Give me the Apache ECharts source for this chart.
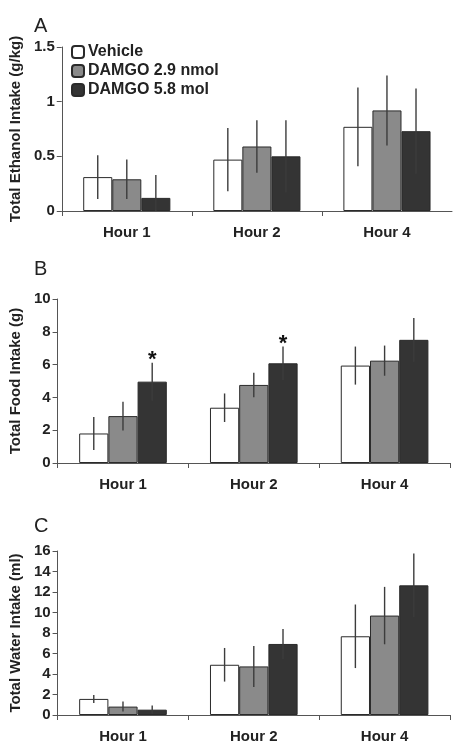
<!DOCTYPE html>
<html>
<head>
<meta charset="utf-8">
<script src="https://cdn.jsdelivr.net/npm/echarts@6/dist/echarts.min.js"></script>
<style>html,body{margin:0;padding:0;background:#fff;}#c{width:458px;height:755px;}</style>
</head>
<body>
<div id="c"></div>
<script>
const categories = ['Hour 1', 'Hour 2', 'Hour 4'];
const seriesNames = ['Vehicle', 'DAMGO 2.9 nmol', 'DAMGO 5.8 mol'];

const ethanolVehicle = [0.31, 0.47, 0.77];
const ethanolD29 = [0.29, 0.59, 0.92];
const ethanolD58 = [0.12, 0.50, 0.73];
const ethanolErrVehicle = [0.20, 0.29, 0.36];
const ethanolErrD29 = [0.18, 0.24, 0.32];
const ethanolErrD58 = [0.21, 0.33, 0.39];

const foodVehicle = [1.80, 3.37, 5.94];
const foodD29 = [2.86, 4.76, 6.24];
const foodD58 = [4.96, 6.08, 7.51];
const foodErrVehicle = [1.00, 0.87, 1.16];
const foodErrD29 = [0.88, 0.75, 0.92];
const foodErrD58 = [1.16, 1.02, 1.33];
const foodSigD58 = ['*', '*', ''];

const waterVehicle = [1.57, 4.90, 7.68];
const waterD29 = [0.82, 4.74, 9.70];
const waterD58 = [0.52, 6.93, 12.65];
const waterErrVehicle = [0.39, 1.64, 3.10];
const waterErrD29 = [0.49, 2.00, 2.80];
const waterErrD58 = [0.40, 1.47, 3.10];

const yTicksA = [0, 1.5, 0.5];
const yTicksB = [0, 10, 2];
const yTicksC = [0, 16, 2];

const panels = [
  {letter: 'A', yName: 'Total Ethanol Intake (g/kg)', ticks: yTicksA,
   means: [ethanolVehicle, ethanolD29, ethanolD58], errs: [ethanolErrVehicle, ethanolErrD29, ethanolErrD58],
   sig: [null, null, null]},
  {letter: 'B', yName: 'Total Food Intake (g)', ticks: yTicksB,
   means: [foodVehicle, foodD29, foodD58], errs: [foodErrVehicle, foodErrD29, foodErrD58],
   sig: [null, null, foodSigD58]},
  {letter: 'C', yName: 'Total Water Intake (ml)', ticks: yTicksC,
   means: [waterVehicle, waterD29, waterD58], errs: [waterErrVehicle, waterErrD29, waterErrD58],
   sig: [null, null, null]}
];

const grids = [
  {left: 59, top: 47, width: 393, height: 164},
  {left: 54, top: 299, width: 396, height: 164},
  {left: 52, top: 551, width: 398, height: 164}
];
const nameGaps = [34, 30, 29];
const letterTops = [11, 254, 511];
const fills = ['#ffffff', '#8a8a8a', '#343434'];
const catGap = 0.33;
const FONT = '"Liberation Sans", Arial, sans-serif';

const chart = echarts.init(document.getElementById('c'), null, {renderer: 'canvas'});

const option = {
  animation: false,
  backgroundColor: '#fff',
  title: panels.map((p, i) => ({
    text: p.letter, left: 29, top: letterTops[i],
    textStyle: {fontFamily: FONT, fontSize: 20, fontWeight: 'normal', color: '#222'}
  })),
  legend: {
    data: seriesNames, orient: 'vertical', left: 66, top: 39,
    itemWidth: 12, itemHeight: 12, itemGap: 3,
    textStyle: {fontFamily: FONT, fontSize: 16, fontWeight: 'bold', color: '#222', padding: [0, 0, 0, -1]},
    selectedMode: false
  },
  grid: grids.map(g => Object.assign({containLabel: false}, g)),
  xAxis: grids.map((g, i) => ({
    type: 'category', gridIndex: i, data: categories,
    axisLine: {lineStyle: {color: '#555', width: 1}},
    axisTick: {show: true, length: 5, lineStyle: {color: '#555'}},
    axisLabel: {fontFamily: FONT, fontSize: 15, fontWeight: 'bold', color: '#222', margin: 14}
  })),
  yAxis: panels.map((p, i) => ({
    type: 'value', gridIndex: i, min: p.ticks[0], max: p.ticks[1], interval: p.ticks[2],
    name: p.yName, nameLocation: 'middle', nameGap: nameGaps[i],
    nameTextStyle: {fontFamily: FONT, fontSize: 15, fontWeight: 'bold', color: '#222'},
    axisLine: {show: true, lineStyle: {color: '#555', width: 1}},
    axisTick: {show: true, length: 5, lineStyle: {color: '#555'}},
    splitLine: {show: false},
    axisLabel: {fontFamily: FONT, fontSize: 15, fontWeight: 'bold', color: '#222', margin: 7}
  })),
  series: []
};

panels.forEach((p, gi) => {
  seriesNames.forEach((name, si) => {
    option.series.push({
      type: 'bar', name: name, xAxisIndex: gi, yAxisIndex: gi,
      data: p.means[si], barGap: '0%', barCategoryGap: (catGap * 100) + '%',
      itemStyle: {color: fills[si], borderColor: '#2a2a2a', borderWidth: 1}
    });
  });
  seriesNames.forEach((name, si) => {
    const data = p.means[si].map((m, ci) => [ci, m - p.errs[si][ci], m + p.errs[si][ci], p.sig[si] ? p.sig[si][ci] : '']);
    option.series.push({
      type: 'custom', name: name + ' err', xAxisIndex: gi, yAxisIndex: gi, z: 5,
      data: data,
      renderItem: function (params, api) {
        const ci = api.value(0);
        const lo = api.coord([ci, Math.max(p.ticks[0], api.value(1))]);
        const hi = api.coord([ci, api.value(2)]);
        const catW = api.size([1, 0])[0];
        const bw = catW * (1 - catGap) / 3;
        const x = lo[0] + (si - 1) * bw;
        const children = [{
          type: 'line',
          shape: {x1: x, y1: lo[1], x2: x, y2: hi[1]},
          style: {stroke: '#3c3c3c', lineWidth: 1.4}
        }];
        const s = data[params.dataIndex][3];
        if (s) {
          children.push({
            type: 'text',
            style: {text: s, x: x, y: hi[1] - 3, textAlign: 'center', textVerticalAlign: 'middle',
              font: 'bold 22px ' + FONT, fill: '#111'}
          });
        }
        return {type: 'group', children: children};
      }
    });
  });
});

chart.setOption(option);
</script>
</body>
</html>
